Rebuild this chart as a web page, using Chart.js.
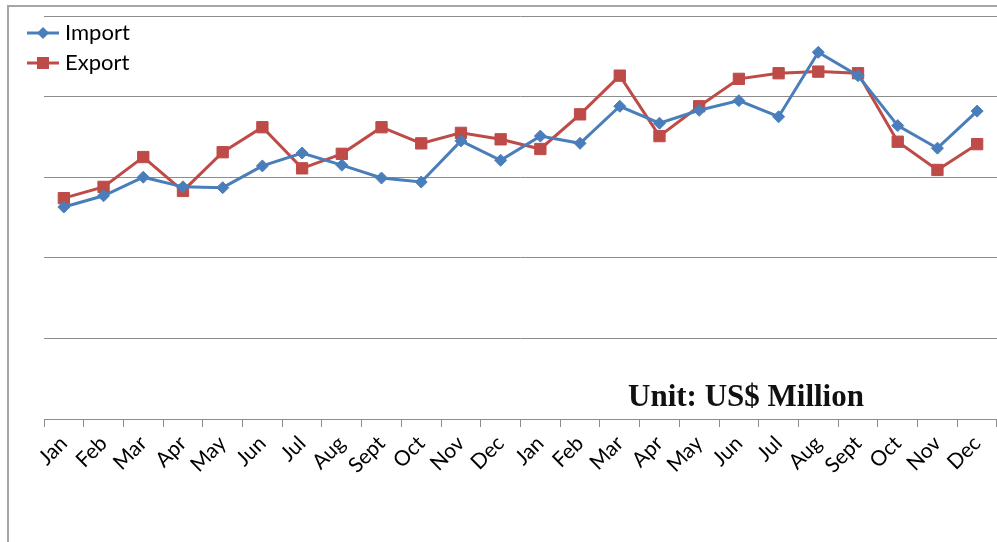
<!DOCTYPE html>
<html>
<head>
<meta charset="utf-8">
<title>Import / Export</title>
<script src="https://cdn.jsdelivr.net/npm/chart.js@4.4.1/dist/chart.umd.min.js"></script>
<style>
  html, body { margin: 0; padding: 0; background: #fff; overflow: hidden; }
  #wrap { position: relative; width: 997px; height: 542px; overflow: hidden; }
  #myChart { position: absolute; left: 0; top: 0; }
  #frame { position: absolute; left: 7px; top: 5px; right: 0; bottom: 0;
           border-left: 2px solid #a6a6a6; border-top: 2px solid #a6a6a6; pointer-events: none; }
</style>
</head>
<body>
<div id="wrap">
  <!-- a bit wider than the page: chart.js keeps a margin for the markers on the right -->
  <canvas id="myChart" width="1006" height="542"></canvas>
  <div id="frame"></div>
</div>
<script>
// months, two years back to back
var months = ["Jan", "Feb", "Mar", "Apr", "May", "Jun", "Jul", "Aug", "Sept", "Oct", "Nov", "Dec",
              "Jan", "Feb", "Mar", "Apr", "May", "Jun", "Jul", "Aug", "Sept", "Oct", "Nov", "Dec"];

// values in US$ million (grid step = 100)
var importVals = [263, 277, 300, 288, 287, 314, 330, 315, 299, 294, 345, 321,
                  351, 342, 388, 367, 383, 395, 375, 455, 426, 364, 336, 382];
var exportVals = [274, 288, 325, 283, 331, 362, 311, 329, 362, 342, 355, 347,
                  335, 378, 426, 351, 388, 422, 429, 431, 429, 344, 309, 341];

var yMin = 0, yMax = 500, yStep = 100;

var blue = '#4a7ebb';
var red = '#be4b48';

// little "line + marker" pictures for the legend
function legendIcon(color, shape){
  var c = document.createElement('canvas');
  c.width = 32; c.height = 14;
  var g = c.getContext('2d');
  g.strokeStyle = color; g.lineWidth = 3;
  g.beginPath(); g.moveTo(0, 7); g.lineTo(32, 7); g.stroke();
  g.fillStyle = color;
  if(shape == 'diamond'){
    g.beginPath(); g.moveTo(16, 1); g.lineTo(22, 7); g.lineTo(16, 13); g.lineTo(10, 7); g.closePath(); g.fill();
  } else {
    g.fillRect(10, 1, 12, 12);
  }
  return c;
}
var icons = [legendIcon(blue, 'diamond'), legendIcon(red, 'square')];

// "Unit: US$ Million" note inside the plot
var unitNote = {
  id: 'unitNote',
  afterDraw: function(chart){
    var ctx = chart.ctx;
    ctx.save();
    ctx.font = 'bold 31px "Liberation Serif", "Times New Roman", serif';
    ctx.fillStyle = '#111';
    ctx.textBaseline = 'alphabetic';
    ctx.fillText('Unit: US$ Million', 628, 406);
    ctx.restore();
  }
};

// put the legend at the top left corner, like the original
var legendSpot = {
  id: 'legendSpot',
  afterLayout: function(chart){
    var lg = chart.legend;
    var w = lg.right - lg.left, h = lg.bottom - lg.top;
    lg.left = 24; lg.right = lg.left + w;
    lg.top = 14; lg.bottom = lg.top + h + 40;
  }
};

var ctx = document.getElementById('myChart').getContext('2d');
var chart = new Chart(ctx, {
  type: 'line',
  data: {
    labels: months,
    datasets: [{
      label: 'Import',
      data: importVals,
      borderColor: blue,
      backgroundColor: blue,
      borderWidth: 3,
      pointStyle: 'rectRot',
      pointRadius: 6,
      pointBorderWidth: 1,
      tension: 0
    }, {
      label: 'Export',
      data: exportVals,
      borderColor: red,
      backgroundColor: red,
      borderWidth: 3,
      pointStyle: 'rect',
      pointRadius: 8,
      pointBorderWidth: 1,
      tension: 0
    }]
  },
  options: {
    responsive: false,
    animation: false,
    layout: { padding: { left: 0, right: 0, top: 16, bottom: 0 } },
    plugins: {
      legend: {
        position: 'chartArea',
        align: 'start',
        labels: {
          usePointStyle: true,
          pointStyleWidth: 22,
          padding: 8,
          color: '#000',
          font: { family: 'Lato', size: 22 },
          generateLabels: function(ch){
            return ch.data.datasets.map(function(ds, i){
              return { text: ds.label, pointStyle: icons[i], fillStyle: ds.borderColor,
                       strokeStyle: ds.borderColor, lineWidth: 0, datasetIndex: i, hidden: false };
            });
          }
        }
      },
      tooltip: { enabled: false }
    },
    scales: {
      x: {
        offset: true,
        grid: { offset: true, drawOnChartArea: false, drawTicks: true, tickLength: 8, color: '#8c8c8c' },
        border: { color: '#8c8c8c', width: 1 },
        ticks: {
          autoSkip: false, minRotation: 45, maxRotation: 45, padding: 4,
          color: '#000', font: { family: 'Lato', size: 21 }
        },
        afterFit: function(scale){ scale.height = 123; }
      },
      y: {
        min: yMin, max: yMax,
        ticks: { stepSize: yStep, display: false },
        grid: { color: '#8c8c8c', drawTicks: false },
        border: { display: false },
        afterFit: function(scale){ scale.width = 44; }
      }
    }
  },
  plugins: [unitNote, legendSpot]
});
</script>
</body>
</html>
